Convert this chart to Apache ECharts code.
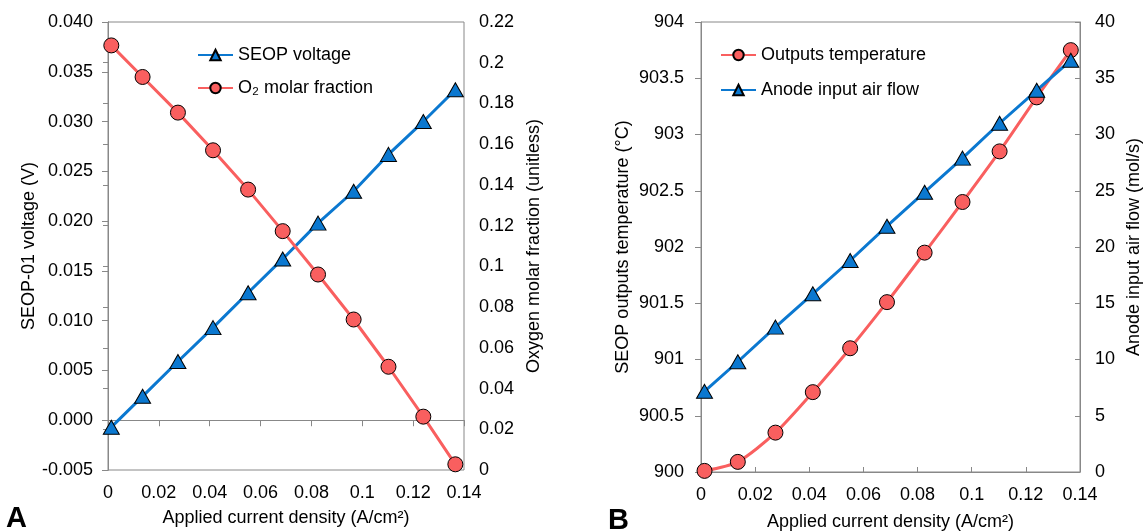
<!DOCTYPE html>
<html>
<head>
<meta charset="utf-8">
<script src="https://cdn.jsdelivr.net/npm/echarts@6/dist/echarts.min.js"></script>
<style>
  html, body { margin: 0; padding: 0; background: #fff; }
  #chart { width: 1143px; height: 531px; }
</style>
</head>
<body>
<div id="chart"></div>
<script>
// Applied current density (A/cm2), shared by both panels
const currentDensity = [0.0013, 0.0136, 0.0275, 0.0413, 0.0551, 0.0687, 0.0826, 0.0966, 0.1103, 0.1240, 0.1366];
// Panel A
const seopVoltage = [-0.0007, 0.0024, 0.0059, 0.0093, 0.0128, 0.0162, 0.0198, 0.0230, 0.0267, 0.0300, 0.0332];
const o2MolarFraction = [0.2085, 0.1930, 0.1755, 0.1570, 0.1377, 0.1173, 0.0960, 0.0739, 0.0507, 0.0262, 0.0028];
// Panel B
const outputsTemperature = [900.01, 900.09, 900.35, 900.71, 901.10, 901.51, 901.95, 902.40, 902.85, 903.33, 903.75];
const anodeAirFlow = [7.17, 9.80, 12.88, 15.84, 18.80, 21.85, 24.87, 27.90, 31.00, 33.93, 36.60];

const pairs = (ys) => ys.map((y, i) => [currentDensity[i], y]);

const FONT = 'Liberation Sans';
const GRAY = '#888888';
const BLUE = '#0b78d0';
const RED = '#f95f5f';
const xName = 'Applied current density (A/cm²)';

const chart = echarts.init(document.getElementById('chart'));
const option = {
  animation: false,
  textStyle: { fontFamily: FONT, color: '#000' },
  title: [
    { text: 'A', left: 1, top: 499, textStyle: { fontFamily: FONT, fontSize: 29, fontWeight: 'bold', color: '#000' } },
    { text: 'B', left: 603, top: 501, textStyle: { fontFamily: FONT, fontSize: 29, fontWeight: 'bold', color: '#000' } }
  ],
  legend: [
    {
      data: ['SEOP voltage', 'O₂ molar fraction'],
      orient: 'vertical', left: 192, top: 41, itemWidth: 35, itemHeight: 13, itemGap: 15,
      textStyle: { fontFamily: FONT, fontSize: 18, color: '#000' }
    },
    {
      data: ['Outputs temperature', 'Anode input air flow'],
      orient: 'vertical', left: 715, top: 41, itemWidth: 35, itemHeight: 13, itemGap: 17,
      textStyle: { fontFamily: FONT, fontSize: 18, color: '#000' }
    }
  ],
  grid: [
    { left: 108, right: 679, top: 22, bottom: 61, show: true, borderColor: GRAY, borderWidth: 1, outerBoundsMode: 'none', containLabel: false },
    { left: 701, right: 63, top: 22, bottom: 59, show: true, borderColor: GRAY, borderWidth: 1, outerBoundsMode: 'none', containLabel: false }
  ],
  xAxis: [
    {
      gridIndex: 0, type: 'value', min: 0, max: 0.14, interval: 0.02, position: 'bottom',
      axisLine: { show: false, onZero: false }, axisTick: { show: false }, splitLine: { show: false },
      axisLabel: { fontSize: 18, color: '#000', margin: 14 },
      name: xName, nameLocation: 'middle', nameGap: 39,
      nameTextStyle: { fontSize: 18, color: '#000' }
    },
    {
      gridIndex: 0, type: 'value', min: 0, max: 0.14, interval: 0.02, position: 'bottom',
      axisLine: { show: true, onZero: true, onZeroAxisIndex: 0, lineStyle: { color: GRAY, width: 1 } },
      axisTick: { show: true, length: 6, lineStyle: { color: GRAY } },
      axisLabel: { show: false }, splitLine: { show: false }
    },
    {
      gridIndex: 1, type: 'value', min: 0, max: 0.14, interval: 0.02, position: 'bottom',
      axisLine: { show: true, onZero: false, lineStyle: { color: GRAY } },
      axisTick: { show: true, inside: true, length: 5, lineStyle: { color: GRAY } },
      splitLine: { show: false },
      axisLabel: { fontSize: 18, color: '#000', margin: 14 },
      name: xName, nameLocation: 'middle', nameGap: 41,
      nameTextStyle: { fontSize: 18, color: '#000' }
    }
  ],
  yAxis: [
    {
      gridIndex: 0, type: 'value', position: 'left', min: -0.005, max: 0.04, interval: 0.005,
      axisLine: { show: true, lineStyle: { color: GRAY } },
      axisTick: { show: true, length: 6, lineStyle: { color: GRAY } },
      splitLine: { show: false },
      axisLabel: { fontSize: 18, color: '#000', margin: 15, formatter: (v) => v.toFixed(3) },
      name: 'SEOP-01 voltage (V)', nameLocation: 'middle', nameGap: 70,
      nameTextStyle: { fontSize: 18, color: '#000' }
    },
    {
      gridIndex: 0, type: 'value', position: 'right', min: 0, max: 0.22, interval: 0.02,
      axisLine: { show: true, lineStyle: { color: GRAY } },
      axisTick: { show: true, inside: true, length: 5, lineStyle: { color: GRAY } },
      splitLine: { show: false },
      axisLabel: { fontSize: 18, color: '#000', margin: 15 },
      name: 'Oxygen molar fraction (unitless)', nameLocation: 'middle', nameGap: 61,
      nameTextStyle: { fontSize: 18, color: '#000' }
    },
    {
      gridIndex: 1, type: 'value', position: 'left', min: 900, max: 904, interval: 0.5,
      axisLine: { show: true, lineStyle: { color: GRAY } },
      axisTick: { show: true, length: 6, lineStyle: { color: GRAY } },
      splitLine: { show: false },
      axisLabel: { fontSize: 18, color: '#000', margin: 17 },
      name: 'SEOP outputs temperature (°C)', nameLocation: 'middle', nameGap: 69,
      nameTextStyle: { fontSize: 18, color: '#000' }
    },
    {
      gridIndex: 1, type: 'value', position: 'right', min: 0, max: 40, interval: 5,
      axisLine: { show: true, lineStyle: { color: GRAY } },
      axisTick: { show: true, inside: true, length: 5, lineStyle: { color: GRAY } },
      splitLine: { show: false },
      axisLabel: { fontSize: 18, color: '#000', margin: 15 },
      name: 'Anode input air flow (mol/s)', nameLocation: 'middle', nameGap: 45,
      nameTextStyle: { fontSize: 18, color: '#000' }
    }
  ],
  series: [
    {
      name: 'SEOP voltage', type: 'line', xAxisIndex: 0, yAxisIndex: 0,
      data: pairs(seopVoltage), symbol: 'triangle', symbolSize: [16, 14],
      lineStyle: { color: BLUE, width: 3 },
      itemStyle: { color: BLUE, borderColor: '#000', borderWidth: 1 }
    },
    {
      name: 'O₂ molar fraction', type: 'line', xAxisIndex: 0, yAxisIndex: 1,
      data: pairs(o2MolarFraction), symbol: 'circle', symbolSize: 15,
      lineStyle: { color: RED, width: 3 },
      itemStyle: { color: RED, borderColor: '#000', borderWidth: 1 }
    },
    {
      name: 'Outputs temperature', type: 'line', xAxisIndex: 2, yAxisIndex: 2,
      data: pairs(outputsTemperature), symbol: 'circle', symbolSize: 15, smooth: 0.25,
      lineStyle: { color: RED, width: 3 },
      itemStyle: { color: RED, borderColor: '#000', borderWidth: 1 }
    },
    {
      name: 'Anode input air flow', type: 'line', xAxisIndex: 2, yAxisIndex: 3,
      data: pairs(anodeAirFlow), symbol: 'triangle', symbolSize: [16, 14],
      lineStyle: { color: BLUE, width: 3 },
      itemStyle: { color: BLUE, borderColor: '#000', borderWidth: 1 }
    }
  ]
};
chart.setOption(option);
</script>
</body>
</html>
